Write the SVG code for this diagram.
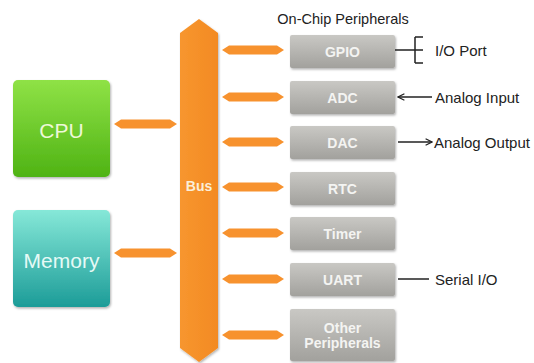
<svg xmlns="http://www.w3.org/2000/svg" width="534" height="363" viewBox="0 0 534 363">
<defs>
<linearGradient id="gCpu" x1="0" y1="0" x2="0" y2="1"><stop offset="0" stop-color="#8fe246"/><stop offset="1" stop-color="#4fb314"/></linearGradient>
<linearGradient id="gMem" x1="0" y1="0" x2="0" y2="1"><stop offset="0" stop-color="#86e8d8"/><stop offset="1" stop-color="#1c9c98"/></linearGradient>
<linearGradient id="gBox" x1="0" y1="0" x2="0" y2="1"><stop offset="0" stop-color="#c9c8c4"/><stop offset="1" stop-color="#a2a19d"/></linearGradient>
<linearGradient id="gBus" x1="0" y1="0" x2="1" y2="0"><stop offset="0" stop-color="#f7962f"/><stop offset="1" stop-color="#f38a22"/></linearGradient>
<filter id="sh" x="-10%" y="-10%" width="130%" height="130%"><feDropShadow dx="1" dy="1.5" stdDeviation="1.2" flood-color="#000" flood-opacity="0.3"/></filter>
<marker id="ah" viewBox="0 0 10 10" refX="9" refY="5" markerWidth="8" markerHeight="8" orient="auto-start-reverse" markerUnits="userSpaceOnUse"><path d="M1,1 L9,5 L1,9" fill="none" stroke="#222" stroke-width="1.5"/></marker>
</defs>
<style>
.box{fill:url(#gBox);filter:url(#sh)}
.bt{font-family:"Liberation Sans",Arial,sans-serif;font-weight:bold;font-size:14px;fill:#f4f4f2;text-anchor:middle}
.lbl{font-family:"Liberation Sans",Arial,sans-serif;font-size:15px;fill:#222}
.big{font-family:"Liberation Sans",Arial,sans-serif;font-size:21px;fill:#eef8d8;text-anchor:middle}
.con{fill:#f7922e}
.ln{stroke:#222;stroke-width:1.5;fill:none}
</style>
<rect width="534" height="363" fill="#fff"/>
<g id="cpu"><rect x="13" y="80" width="97" height="97" rx="5" fill="url(#gCpu)" filter="url(#sh)"/><text class="big" x="61.5" y="138">CPU</text></g>
<g id="memory"><rect x="13" y="210" width="97" height="97" rx="5" fill="url(#gMem)" filter="url(#sh)"/><text class="big" x="61.5" y="268" style="fill:#e6faf6">Memory</text></g>
<g id="bus"><polygon points="199,19 218,33 218,348 199,362 180,348 180,33" fill="url(#gBus)" filter="url(#sh)"/><text class="bt" x="199" y="191" style="fill:#fbeed8">Bus</text></g>
<text class="lbl" x="343" y="24" text-anchor="middle" style="font-size:14.5px">On-Chip Peripherals</text>
<g id="gpio"><rect class="box" x="290" y="35" width="105" height="33" rx="2"/><text class="bt" x="342.5" y="57">GPIO</text></g>
<g id="adc"><rect class="box" x="290" y="81" width="105" height="33" rx="2"/><text class="bt" x="342.5" y="103">ADC</text></g>
<g id="dac"><rect class="box" x="290" y="126" width="105" height="33" rx="2"/><text class="bt" x="342.5" y="148">DAC</text></g>
<g id="rtc"><rect class="box" x="290" y="172" width="105" height="33" rx="2"/><text class="bt" x="342.5" y="194">RTC</text></g>
<g id="timer"><rect class="box" x="290" y="217" width="105" height="33" rx="2"/><text class="bt" x="342.5" y="239">Timer</text></g>
<g id="uart"><rect class="box" x="290" y="263" width="105" height="33" rx="2"/><text class="bt" x="342.5" y="285">UART</text></g>
<g id="other"><rect class="box" x="290" y="309" width="105" height="52" rx="2"/><text class="bt" x="342.5" y="333">Other</text><text class="bt" x="342.5" y="348">Peripherals</text></g>
<g id="connectors">
<polygon class="con" points="114,124 121,119.5 170,119.5 177,124 170,128.5 121,128.5"/>
<polygon class="con" points="114,253 121,248.5 170,248.5 177,253 170,257.5 121,257.5"/>
<polygon class="con" points="222,50 229,45.5 277,45.5 284,50 277,54.5 229,54.5"/>
<polygon class="con" points="222,97 229,92.5 277,92.5 284,97 277,101.5 229,101.5"/>
<polygon class="con" points="222,142 229,137.5 277,137.5 284,142 277,146.5 229,146.5"/>
<polygon class="con" points="222,187 229,182.5 277,182.5 284,187 277,191.5 229,191.5"/>
<polygon class="con" points="222,233 229,228.5 277,228.5 284,233 277,237.5 229,237.5"/>
<polygon class="con" points="222,279 229,274.5 277,274.5 284,279 277,283.5 229,283.5"/>
<polygon class="con" points="222,335 229,330.5 277,330.5 284,335 277,339.5 229,339.5"/>
<path class="ln" d="M395,50 H415 M415,37 V63 M415,37 H423 M415,50 H423 M415,63 H423"/>
<path class="ln" d="M432,97 H398" marker-end="url(#ah)"/>
<path class="ln" d="M398,142 H432" marker-end="url(#ah)"/>
<path class="ln" d="M398,279 H429"/>
</g>
<text class="lbl" x="435" y="56">I/O Port</text>
<text class="lbl" x="435" y="103">Analog Input</text>
<text class="lbl" x="434" y="148">Analog Output</text>
<text class="lbl" x="435" y="285">Serial I/O</text>
</svg>
